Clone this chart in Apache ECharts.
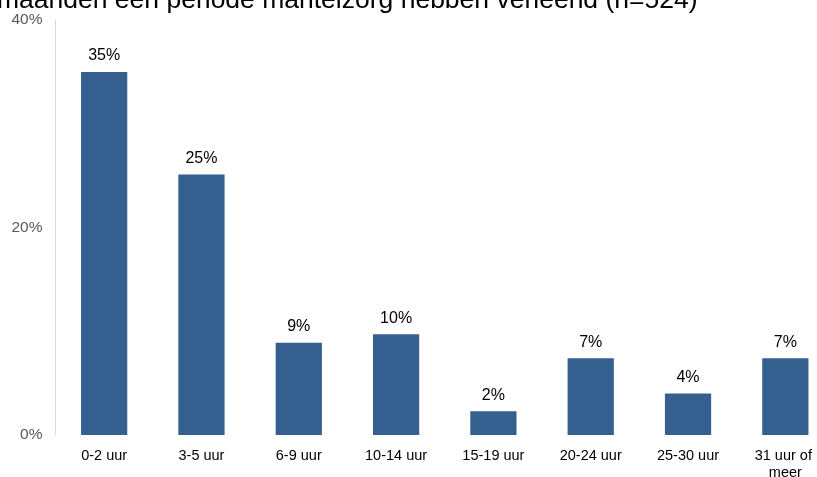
<!DOCTYPE html>
<html>
<head>
<meta charset="utf-8">
<script src="https://cdn.jsdelivr.net/npm/echarts@6/dist/echarts.min.js"></script>
<style>html,body{margin:0;padding:0;background:#fff}#c{width:817px;height:477px}</style>
</head>
<body>
<div id="c"></div>
<script>
var titleText = 'maanden een periode mantelzorg hebben verleend (n=524)';
var categories = ['0-2 uur', '3-5 uur', '6-9 uur', '10-14 uur', '15-19 uur', '20-24 uur', '25-30 uur', '31 uur of meer'];
var values = [35.0, 25.1, 8.9, 9.7, 2.3, 7.4, 4.0, 7.4];
var yTicks = [0, 20, 40];

var font = '"Liberation Sans", Arial, sans-serif';
var chart = echarts.init(document.getElementById('c'), null, {renderer: 'canvas'});
chart.setOption({
  animation: false,
  backgroundColor: '#ffffff',
  graphic: [{
    type: 'text', left: -3, top: -13,
    style: {text: titleText, font: '26.5px ' + font, fill: '#000000'}
  }],
  grid: {left: 55.5, width: 778.5, top: 20, height: 415, containLabel: false, outerBoundsMode: 'none'},
  xAxis: {
    type: 'category', data: categories,
    axisLine: {show: false}, axisTick: {show: false},
    axisLabel: {color: '#000000', fontSize: 14.5, fontFamily: font, margin: 12, interval: 0,
      width: 78, overflow: 'break', lineHeight: 17}
  },
  yAxis: {
    type: 'value', min: 0, max: 40, interval: 20,
    axisLine: {show: true, lineStyle: {color: '#d9d9d9', width: 1}},
    axisTick: {show: false}, splitLine: {show: false},
    axisLabel: {color: '#595959', fontSize: 15.5, fontFamily: font, margin: 13,
      formatter: function (v) { return yTicks.indexOf(v) >= 0 ? v + '%' : ''; }}
  },
  series: [{
    type: 'bar', data: values, barWidth: '47.5%',
    itemStyle: {color: '#355f8f'},
    label: {show: true, position: 'top', distance: 8, color: '#000000', fontSize: 16, fontFamily: font,
      formatter: function (p) { return Math.round(p.value) + '%'; }}
  }]
});
</script>
</body>
</html>
